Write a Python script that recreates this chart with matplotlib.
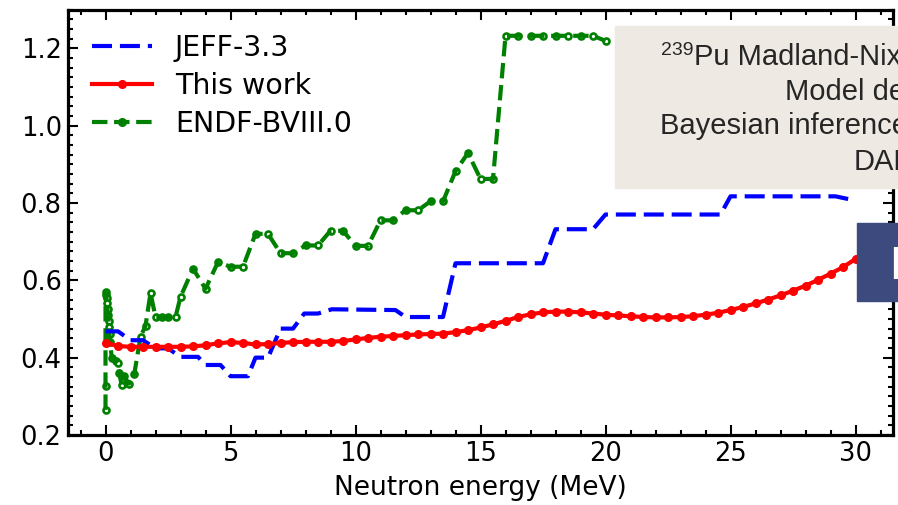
import matplotlib
matplotlib.use("Agg")
import matplotlib.pyplot as plt
from matplotlib.lines import Line2D
from matplotlib.patches import Rectangle
from matplotlib.ticker import MultipleLocator

# JEFF-3.3 (step-like evaluation)
jeff_e = [0, 0.5, 1.0, 1.5, 2.0, 2.5, 3.0, 3.7, 4.0, 4.6, 5.0, 5.7, 6.0, 6.5,
          7.0, 7.5, 7.95, 8.5, 9.05, 11.6, 12.0, 13.5, 14.0, 17.5, 18.0, 19.5,
          20.0, 24.6, 25.0, 29.2, 30.0]
jeff_v = [0.468, 0.468, 0.445, 0.445, 0.424, 0.424, 0.402, 0.402, 0.381, 0.381,
          0.352, 0.352, 0.400, 0.400, 0.475, 0.475, 0.514, 0.514, 0.525, 0.523,
          0.505, 0.505, 0.644, 0.644, 0.732, 0.732, 0.770, 0.770, 0.817, 0.817,
          0.806]

# This work
work_e = [i * 0.5 for i in range(61)]
work_v = [0.438, 0.430, 0.428, 0.428, 0.428, 0.428, 0.428, 0.429, 0.432, 0.437,
          0.440, 0.438, 0.434, 0.435, 0.438, 0.440, 0.441, 0.441, 0.441, 0.443,
          0.447, 0.451, 0.454, 0.456, 0.458, 0.460, 0.461, 0.462, 0.466, 0.471,
          0.478, 0.486, 0.495, 0.505, 0.512, 0.517, 0.519, 0.519, 0.517, 0.514,
          0.511, 0.509, 0.507, 0.505, 0.504, 0.504, 0.505, 0.507, 0.511, 0.516,
          0.523, 0.531, 0.540, 0.550, 0.561, 0.573, 0.586, 0.601, 0.617, 0.634,
          0.655]

# ENDF/B-VIII.0
endf_e = [0.0, 0.0, 0.0, 0.02, 0.04, 0.06, 0.08, 0.10, 0.12, 0.14, 0.16, 0.18,
          0.25, 0.40, 0.50, 0.55, 0.65, 0.75, 0.85, 0.95, 1.15, 1.40, 1.60, 1.80,
          2.0, 2.25, 2.5, 2.8, 3.0, 3.5, 4.0, 4.5, 5.0, 5.5, 6.0, 6.5, 7.0, 7.5,
          8.0, 8.5, 9.0, 9.5, 10.0, 10.5, 11.0, 11.5, 12.0, 12.5, 13.0, 13.5,
          14.0, 14.5, 15.0, 15.5, 16.0, 16.5, 17.0, 17.5, 18.0, 18.5, 19.0,
          19.5, 20.0]
endf_v = [0.265, 0.326, 0.570, 0.562, 0.553, 0.540, 0.525, 0.510, 0.495, 0.478,
          0.460, 0.441, 0.400, 0.392, 0.385, 0.360, 0.328, 0.352, 0.335, 0.333,
          0.357, 0.454, 0.482, 0.567, 0.505, 0.505, 0.505, 0.505, 0.557, 0.630,
          0.578, 0.647, 0.635, 0.635, 0.720, 0.720, 0.670, 0.670, 0.690, 0.690,
          0.728, 0.728, 0.689, 0.689, 0.755, 0.755, 0.781, 0.781, 0.804, 0.804,
          0.882, 0.929, 0.862, 0.862, 1.232, 1.232, 1.232, 1.232, 1.232, 1.232,
          1.232, 1.232, 1.219]

box_lines = ["Pu Madland-Nix model", "Model defect", "Bayesian inference", "DAN"]

fig = plt.figure(figsize=(8.98, 5.05), dpi=100)
ax = fig.add_axes([68 / 898, 1 - 435 / 505, 825 / 898, 425.5 / 505])

ax.plot(jeff_e, jeff_v, color="#0000ff", lw=3, dashes=(4.8, 1.9), zorder=3)
ax.plot(work_e, work_v, color="#ff0000", lw=3, marker="o", ms=5.5, zorder=4)
# markers under the dashed line, so centres show only in the gaps
ax.plot(endf_e, endf_v, ls="none", marker="o", ms=4.3, mew=1.9,
        mfc="white", mec="#008000", zorder=2)
ax.plot(endf_e, endf_v, color="#008000", lw=3, ls="--", zorder=2.5)

handles = [
    Line2D([], [], color="#0000ff", lw=3, dashes=(4.8, 1.9)),
    Line2D([], [], color="#ff0000", lw=3, marker="o", ms=5.5),
    Line2D([], [], color="#008000", lw=3, ls="--", marker="o", ms=5.5),
]
ax.legend(handles, ["JEFF-3.3", "This work", "ENDF-BVIII.0"], loc="upper left",
          bbox_to_anchor=(0.0, 1.0), frameon=False, fontsize=20.5,
          handlelength=2.1, handletextpad=0.8, labelspacing=0.36,
          borderaxespad=0.45)

ax.set_xlim(-1.5, 31.5)
ax.set_ylim(0.2, 1.3)
ax.xaxis.set_major_locator(MultipleLocator(5))
ax.xaxis.set_minor_locator(MultipleLocator(1))
ax.yaxis.set_major_locator(MultipleLocator(0.2))
ax.yaxis.set_minor_locator(MultipleLocator(0.025))
ax.tick_params(which="both", direction="in", top=True, right=True,
               labelsize=18.5, width=1.5, pad=4.5)
ax.tick_params(which="major", length=7)
ax.tick_params(which="minor", length=3.8)
for s in ax.spines.values():
    s.set_linewidth(2.3)
ax.set_xlabel("Neutron energy (MeV)", fontsize=19, labelpad=5.5)

# overlays from the slide
fig.add_artist(Rectangle((615 / 898, 1 - 187.7 / 505), 0.4, 161.7 / 505,
                         transform=fig.transFigure, color="#efe9e4", zorder=5))
fig.add_artist(Rectangle((856.7 / 898, 1 - 300.7 / 505), 0.2, 78 / 505,
                         transform=fig.transFigure, color="#3d4a7e", zorder=5))
tfont = dict(family="Liberation Sans", color="#262626", va="baseline", zorder=6)
fig.text(661 / 898, 1 - 55 / 505, "239", fontsize=14, **tfont)
fig.text(694 / 898, 1 - 65 / 505, box_lines[0], fontsize=21, **tfont)
fig.text(785 / 898, 1 - 100 / 505, box_lines[1], fontsize=21, **tfont)
fig.text(660 / 898, 1 - 134 / 505, box_lines[2], fontsize=21, **tfont)
fig.text(854 / 898, 1 - 170 / 505, box_lines[3], fontsize=21, **tfont)
fig.text(889 / 898, 1 - 279 / 505, "D", fontsize=34, family="Liberation Sans",
         color="white", va="baseline", zorder=6)

fig.savefig("out.png", dpi=100)
